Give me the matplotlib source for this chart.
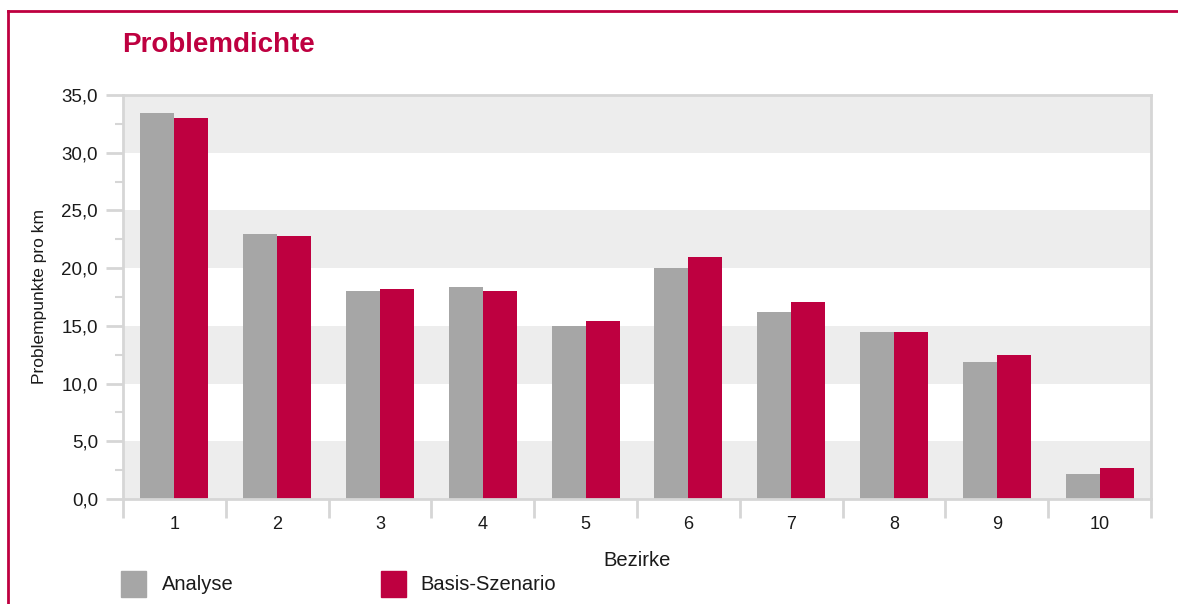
import matplotlib.pyplot as plt
import numpy as np
from matplotlib.patches import Rectangle
from matplotlib.lines import Line2D

bezirke = ["1", "2", "3", "4", "5", "6", "7", "8", "9", "10"]
analyse = [33.4, 23.0, 18.0, 18.4, 15.0, 20.0, 16.2, 14.5, 11.9, 2.2]
basis = [33.0, 22.8, 18.2, 18.0, 15.4, 21.0, 17.1, 14.5, 12.5, 2.7]
yticks = [0, 5, 10, 15, 20, 25, 30, 35]

GRAY = "#a6a6a6"
RED = "#be0040"
AXIS = "#d6d6d6"
TXT = "#1a1a1a"

plt.rcParams["font.family"] = ["Liberation Sans", "DejaVu Sans"]

fig = plt.figure(figsize=(11.78, 6.04), dpi=100)
ax = fig.add_axes([123 / 1178, 1 - 499 / 604, 1028 / 1178, 404 / 604])

x = np.arange(len(bezirke))
w = 0.33

# alternating background bands
for lo in range(0, 35, 10):
    ax.axhspan(lo, lo + 5, color="#ededed", zorder=0, lw=0)

ax.bar(x - w / 2, analyse, w, color=GRAY, zorder=2, label="Analyse")
ax.bar(x + w / 2, basis, w, color=RED, zorder=2, label="Basis-Szenario")

ax.set_xlim(-0.5, len(bezirke) - 0.5)
ax.set_ylim(0, 35)
ax.set_yticks(yticks)
ax.set_yticklabels([f"{v:.1f}".replace(".", ",") for v in yticks])
ax.set_yticks(np.arange(2.5, 35, 5), minor=True)

ax.set_xticks(x)
ax.set_xticklabels(bezirke)
ax.set_xticks(np.arange(-0.5, len(bezirke)), minor=True)
ax.tick_params(axis="x", which="major", length=0, pad=12, labelsize=13, colors=TXT)
ax.tick_params(axis="x", which="minor", length=14, width=2, color=AXIS, direction="out")
ax.tick_params(axis="y", which="major", length=12, width=2, color=AXIS, labelsize=13.5,
               labelcolor=TXT, pad=6)
ax.tick_params(axis="y", which="minor", length=6, width=1.5, color=AXIS)

for s in ax.spines.values():
    s.set_color(AXIS)
    s.set_linewidth(2)

ax.set_xlabel("Bezirke", fontsize=14.5, color=TXT, labelpad=13)
ax.set_ylabel("Problempunkte pro km", fontsize=12.5, color=TXT, labelpad=10)

fig.text(122 / 1178, 1 - 45 / 604, "Problemdichte", fontsize=20, fontweight="bold",
         color=RED, va="center", ha="left")

# frame lines at top and left
fig.add_artist(Line2D([8 / 1178, 1.0], [1 - 11 / 604] * 2, color=RED, lw=2))
fig.add_artist(Line2D([8 / 1178] * 2, [0, 1 - 11 / 604], color=RED, lw=2))

# legend
fig.add_artist(Rectangle((121 / 1178, 1 - 597 / 604), 25 / 1178, 26 / 604,
                         color=GRAY, transform=fig.transFigure))
fig.text(162 / 1178, 1 - 585 / 604, "Analyse", fontsize=14.5, va="center", color=TXT)
fig.add_artist(Rectangle((381 / 1178, 1 - 597 / 604), 25 / 1178, 26 / 604,
                         color=RED, transform=fig.transFigure))
fig.text(420 / 1178, 1 - 585 / 604, "Basis-Szenario", fontsize=14.5, va="center", color=TXT)

fig.savefig("out.png", dpi=100)
